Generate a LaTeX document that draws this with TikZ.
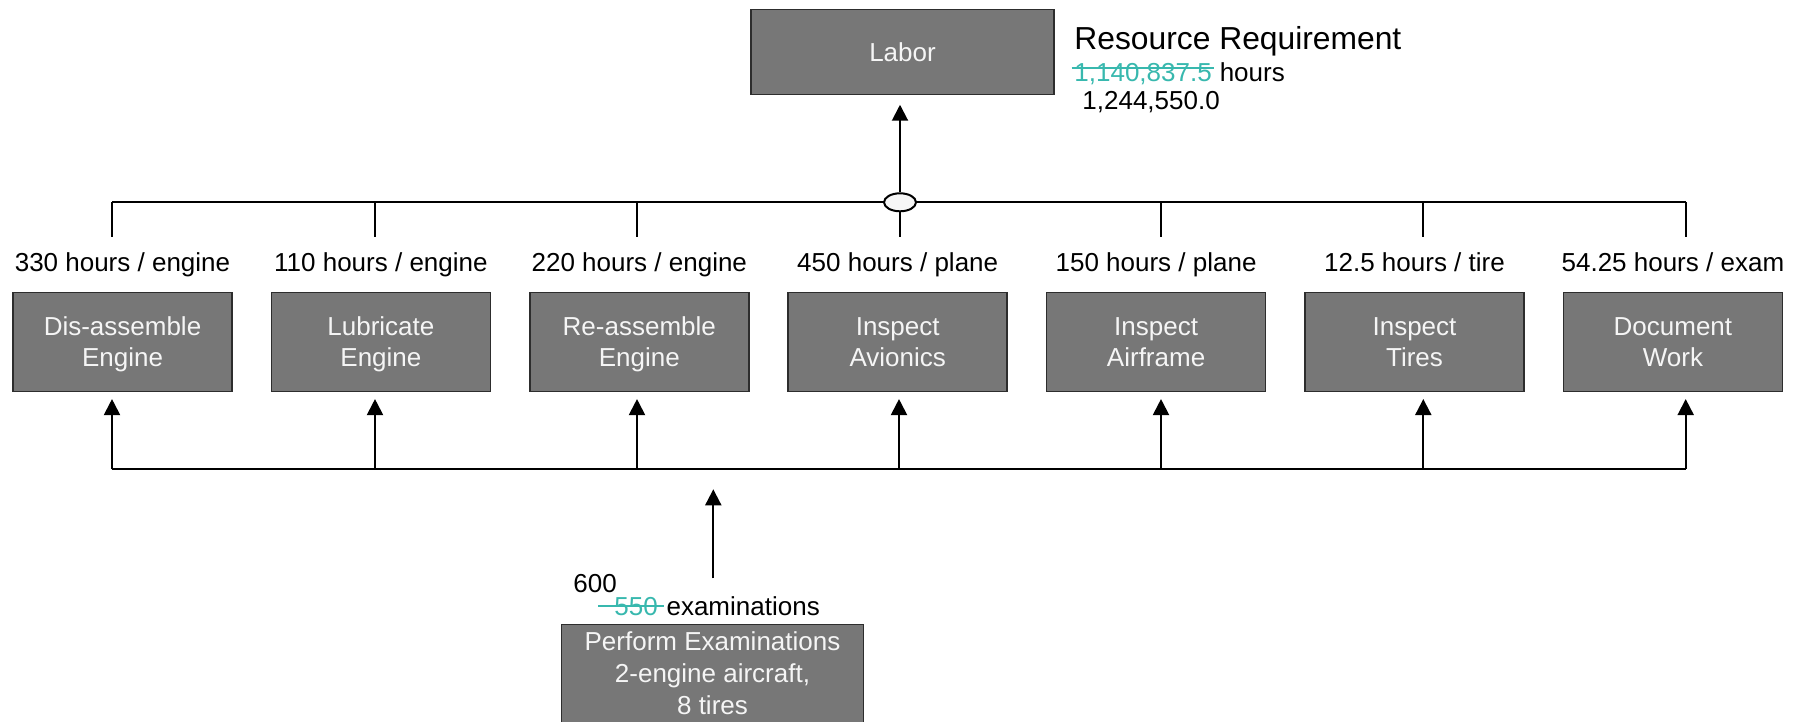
\documentclass[tikz,border=0pt]{standalone}
\usepackage{fontspec}
\setmainfont{Liberation Sans}
\usetikzlibrary{arrows.meta,shapes.geometric,calc}
\definecolor{boxgray}{RGB}{119,119,119}
\definecolor{boxedge}{RGB}{45,45,45}
\definecolor{boxtxt}{RGB}{245,245,245}
\definecolor{tealc}{RGB}{56,184,174}
\definecolor{hubfill}{RGB}{246,246,246}
\begin{document}
\begin{tikzpicture}[x=0.5pt,y=-0.5pt,
  taskbox/.style={draw=boxedge, line width=0.75pt, fill=boxgray, rectangle,
    minimum width=109.5pt, minimum height=49.7pt, inner sep=0pt},
  boxtext/.style={text=boxtxt, inner sep=0pt, anchor=base,
    font=\fontsize{13pt}{15.5pt}\selectfont},
  rate/.style={inner sep=0pt, anchor=base, font=\fontsize{13pt}{15.5pt}\selectfont},
  plain/.style={inner sep=0pt, anchor=base west, font=\fontsize{13pt}{15.5pt}\selectfont},
  wire/.style={line width=1pt, draw=black},
  arr/.style={wire, -{Triangle[width=8pt,length=8pt]}},
  strikeline/.style={draw=tealc, line width=0.9pt}
]
\useasboundingbox (0,0) rectangle (1800,722);
\clip (0,0) rectangle (1800,722);

% Labor box and resource text
\node[taskbox, minimum width=151.5pt, minimum height=42.5pt,
  font=\fontsize{13pt}{15.5pt}\selectfont, text=boxtxt] (labor) at (902.5,51.8) {Labor};
\node[plain, font=\fontsize{15.9pt}{18pt}\selectfont] (rr) at (1074,50) {Resource Requirement};
\node[plain, text=tealc] (old1) at (1074,81.7) {1,140,837.5};
\draw[strikeline] ($(old1.base west)+(-2.3,-13.4)$) -- ($(old1.base east)+(2.3,-13.4)$);
\node[plain] (hrs) at ([xshift=3.6pt]old1.base east) {hours};
\node[plain] (new1) at (1082,110) {1,244,550.0};

% task boxes
\node[taskbox] (b1) at (122.5,342) {};
\node[taskbox] (b2) at (380.9,342) {};
\node[taskbox] (b3) at (639.3,342) {};
\node[taskbox] (b4) at (897.7,342) {};
\node[taskbox] (b5) at (1156.1,342) {};
\node[taskbox] (b6) at (1414.5,342) {};
\node[taskbox] (b7) at (1672.9,342) {};

\node[boxtext] (b1t) at (122.5,335.7) {\begin{tabular}[t]{@{}c@{}}Dis-assemble\\Engine\end{tabular}};
\node[boxtext] (b2t) at (380.9,335.7) {\begin{tabular}[t]{@{}c@{}}Lubricate\\Engine\end{tabular}};
\node[boxtext] (b3t) at (639.3,335.7) {\begin{tabular}[t]{@{}c@{}}Re-assemble\\Engine\end{tabular}};
\node[boxtext] (b4t) at (897.7,335.7) {\begin{tabular}[t]{@{}c@{}}Inspect\\Avionics\end{tabular}};
\node[boxtext] (b5t) at (1156.1,335.7) {\begin{tabular}[t]{@{}c@{}}Inspect\\Airframe\end{tabular}};
\node[boxtext] (b6t) at (1414.5,335.7) {\begin{tabular}[t]{@{}c@{}}Inspect\\Tires\end{tabular}};
\node[boxtext] (b7t) at (1672.9,335.7) {\begin{tabular}[t]{@{}c@{}}Document\\Work\end{tabular}};

% rate labels
\node[rate] (r1) at (122.5,271) {330 hours / engine};
\node[rate] (r2) at (380.9,271) {110 hours / engine};
\node[rate] (r3) at (639.3,271) {220 hours / engine};
\node[rate] (r4) at (897.7,271) {450 hours / plane};
\node[rate] (r5) at (1156.1,271) {150 hours / plane};
\node[rate] (r6) at (1414.5,271) {12.5 hours / tire};
\node[rate] (r7) at (1672.9,271) {54.25 hours / exam};

% top bus
\coordinate (tT1) at (112,202.3);
\coordinate (tT2) at (375,202.3);
\coordinate (tT3) at (637,202.3);
\coordinate (tT5) at (1161,202.3);
\coordinate (tT6) at (1423.3,202.3);
\coordinate (tT7) at (1685.7,202.3);
\draw[wire] (tT1) -- (tT7);
\foreach \i in {1,2,3,5,6,7}{
  \draw[wire, shorten >=7.5pt] (tT\i) -- (tT\i |- r\i.north);
}
\node[ellipse, draw, line width=1pt, fill=hubfill, minimum width=16pt,
  minimum height=9pt, inner sep=0pt] (hub) at (900,202.3) {};
\draw[wire, shorten >=7.5pt] (hub.south) -- (hub.south |- r4.north);
\draw[arr, shorten >=4.85pt] (hub.north) -- (hub.north |- labor.south);

% bottom bus
\coordinate (bB1) at (112,469.3);
\coordinate (bB2) at (375,469.3);
\coordinate (bB3) at (637,469.3);
\coordinate (bB4) at (899,469.3);
\coordinate (bB5) at (1161,469.3);
\coordinate (bB6) at (1423.3,469.3);
\coordinate (bB7) at (1685.7,469.3);
\draw[wire] (bB1) -- (bB7);
\foreach \i in {1,...,7}{
  \draw[arr, shorten >=3.3pt] (bB\i) -- (bB\i |- b\i.south);
}

% examinations
\node[taskbox, minimum width=150.8pt, minimum height=67.9pt] (exam) at (712.5,692.2) {};
\node[boxtext, font=\fontsize{13pt}{16pt}\selectfont] (examt) at (712.5,650.7)
  {\begin{tabular}[t]{@{}c@{}}Perform Examinations\\2-engine aircraft,\\8 tires\end{tabular}};
\draw[arr, shorten <=22.6pt, shorten >=10pt] ([xshift=0.4pt]exam.north) -- ([xshift=0.4pt]exam.north |- bB1);

\node[plain] (n600) at (573,592.7) {600};
\node[plain, text=tealc] (old2) at (614,615.7) {550};
\draw[strikeline] ($(old2.base west)+(-15.7,-10)$) -- ($(old2.base east)+(5.9,-10)$);
\node[plain] (exams) at ([xshift=4pt]old2.base east) {examinations};
\end{tikzpicture}
\end{document}
